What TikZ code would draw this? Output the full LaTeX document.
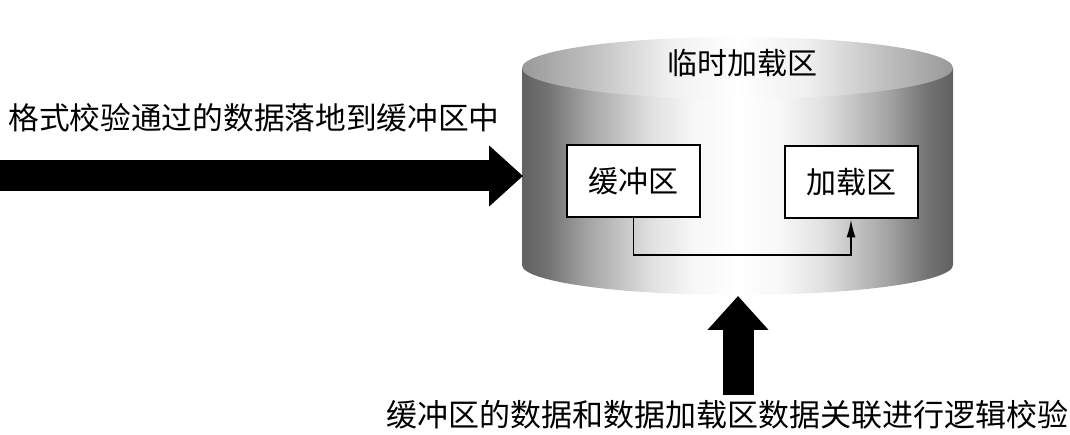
\documentclass[tikz,border=0pt]{standalone}
\usepackage{fontspec}
\setmainfont{Noto Sans CJK SC}
\usetikzlibrary{arrows.meta}
\pgfdeclarehorizontalshading{cylside}{100bp}{color(0bp)=(black!62); color(25bp)=(black!62); color(28bp)=(black!55); color(32.5bp)=(black!36); color(40bp)=(black!12); color(45bp)=(black!3); color(50bp)=(white); color(55bp)=(black!3); color(60bp)=(black!12); color(67.5bp)=(black!36); color(72bp)=(black!55); color(75bp)=(black!62); color(100bp)=(black!62)}
\pgfdeclarehorizontalshading{cyltop}{100bp}{color(0bp)=(black!40); color(25bp)=(black!40); color(33bp)=(black!25); color(42bp)=(black!6); color(50bp)=(white); color(58bp)=(black!6); color(67bp)=(black!25); color(75bp)=(black!40); color(100bp)=(black!40)}
\tikzset{
  bigarrow/.style={line width=31pt,-{Triangle[width=59pt,length=34pt]}},
  zonebox/.style={draw,line width=2pt,fill=white,minimum width=133pt,minimum height=72pt,inner sep=0pt,font=\fontsize{30}{32}\selectfont},
  label/.style={inner sep=0pt,font=\fontsize{30.7}{32}\selectfont},
  thinarrow/.style={line width=1.4pt,-{Latex[width=9pt,length=18pt]}}
}
\begin{document}
\begin{tikzpicture}[x=1pt,y=-1pt]
\useasboundingbox (0,0) rectangle (1070,435);
% cylinder body
\shade[shading=cylside]
  (522,68) -- (522,265) arc[start angle=180,end angle=360,x radius=215.5pt,y radius=30pt] -- (953,68) -- cycle;
% cylinder top
\shade[shading=cyltop]
  (737.5,68) ellipse[x radius=215.5pt,y radius=31pt];
\node[label,font=\fontsize{30}{32}\selectfont] (title) at (742,63) {临时加载区};
\node[zonebox] (buf) at (633.5,181.5) {缓冲区};
\node[zonebox] (load) at (851,182.5) {加载区};
\coordinate (turn1) at (buf.south |- 0,255);
\draw[thinarrow] (buf.south) -- (turn1) -| (load.south);
% left input
\coordinate (inL) at (0,176);
\coordinate (cylW) at (523,176);
\draw[bigarrow] (inL) -- (cylW);
\node[label] (ltext) at (254,118) {格式校验通过的数据落地到缓冲区中};
% bottom input
\coordinate (inB) at (738,395);
\coordinate (cylS) at (738,296);
\draw[bigarrow] (inB) -- (cylS);
\node[label,font=\fontsize{31}{32}\selectfont] (btext) at (727,415) {缓冲区的数据和数据加载区数据关联进行逻辑校验};
\end{tikzpicture}
\end{document}
